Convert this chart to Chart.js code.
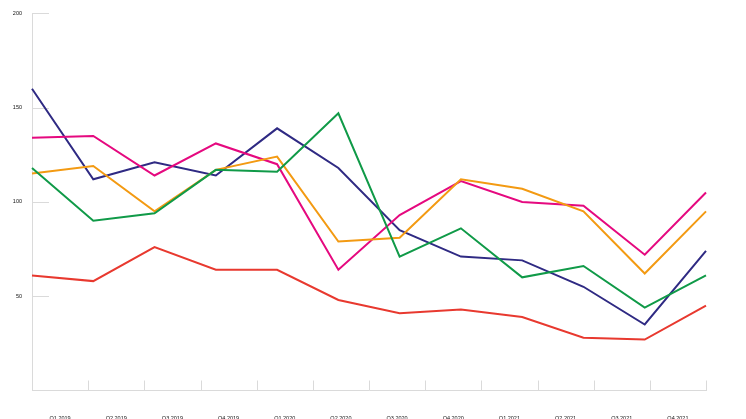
<!DOCTYPE html>
<html>
<head>
<meta charset="utf-8">
<script src="https://cdn.jsdelivr.net/npm/chart.js@4.4.1/dist/chart.umd.min.js"></script>
<style>
  html, body { margin: 0; padding: 0; background: #ffffff; }
  #wrap { width: 746px; height: 419px; }
</style>
</head>
<body>
<div id="wrap"><canvas id="c" width="746" height="419"></canvas></div>
<script>
const categories = ["Q1 2019","Q2 2019","Q3 2019","Q4 2019","Q1 2020","Q2 2020","Q3 2020","Q4 2020","Q1 2021","Q2 2021","Q3 2021","Q4 2021"];
const seriesPurple = [160, 112, 121, 114, 139, 118, 85, 71, 69, 55, 35, 74];
const seriesPink   = [134, 135, 114, 131, 120, 64, 93, 111, 100, 98, 72, 105];
const seriesOrange = [115, 119, 95, 117, 124, 79, 81, 112, 107, 95, 62, 95];
const seriesGreen  = [118, 90, 94, 117, 116, 147, 71, 86, 60, 66, 44, 61];
const seriesRed    = [61, 58, 76, 64, 64, 48, 41, 43, 39, 28, 27, 45];
const yTickValues  = [50, 100, 150, 200];

const tickMarks = {
  id: 'tickMarks',
  beforeDatasetsDraw(chart) {
    const ctx = chart.ctx, area = chart.chartArea;
    const y = chart.scales.y, x = chart.scales.x;
    ctx.save();
    ctx.strokeStyle = '#dadada';
    ctx.lineWidth = 1;
    ctx.beginPath();
    yTickValues.forEach(v => {
      const py = Math.round(y.getPixelForValue(v)) + 0.5;
      ctx.moveTo(area.left, py);
      ctx.lineTo(area.left + 17, py);
    });
    for (let i = 1; i <= categories.length; i++) {
      const px = Math.round(x.getPixelForValue(i - 0.5)) + 0.5;
      ctx.moveTo(px, area.bottom);
      ctx.lineTo(px, area.bottom - 10);
    }
    ctx.stroke();
    ctx.restore();
  }
};

function ds(data, color) {
  return {
    data: data, xAxisID: 'xd', yAxisID: 'y',
    borderColor: color, backgroundColor: color,
    borderWidth: 2, pointRadius: 0, tension: 0, fill: false
  };
}

new Chart(document.getElementById('c'), {
  type: 'line',
  data: {
    labels: categories,
    datasets: [
      ds(seriesRed, '#e8392f'),
      ds(seriesGreen, '#109a48'),
      ds(seriesOrange, '#f39a12'),
      ds(seriesPink, '#e5097f'),
      ds(seriesPurple, '#2f2a83')
    ]
  },
  options: {
    responsive: false,
    animation: false,
    layout: { padding: { top: 12.5, right: 40, left: 0, bottom: 0 } },
    plugins: { legend: { display: false }, tooltip: { enabled: false } },
    scales: {
      xd: {
        type: 'category', display: false, offset: false
      },
      x: {
        type: 'category', position: 'bottom', offset: true,
        grid: { display: false, drawTicks: false },
        border: { display: true, color: '#dadada', width: 1 },
        ticks: {
          padding: 25, maxRotation: 0, autoSkip: false,
          color: '#111', font: { family: 'Liberation Sans, Arial, sans-serif', size: 5.5 }
        },
        afterFit: s => { s.height = 28.5; }
      },
      y: {
        min: 0, max: 200,
        grid: { display: false, drawTicks: false },
        border: { display: true, color: '#dadada', width: 1 },
        ticks: {
          stepSize: 50, padding: 10,
          color: '#111', font: { family: 'Liberation Sans, Arial, sans-serif', size: 5.5 },
          callback: v => (v === 0 ? '' : v)
        },
        afterFit: s => { s.width = 32; }
      }
    }
  },
  plugins: [tickMarks]
});
</script>
</body>
</html>
